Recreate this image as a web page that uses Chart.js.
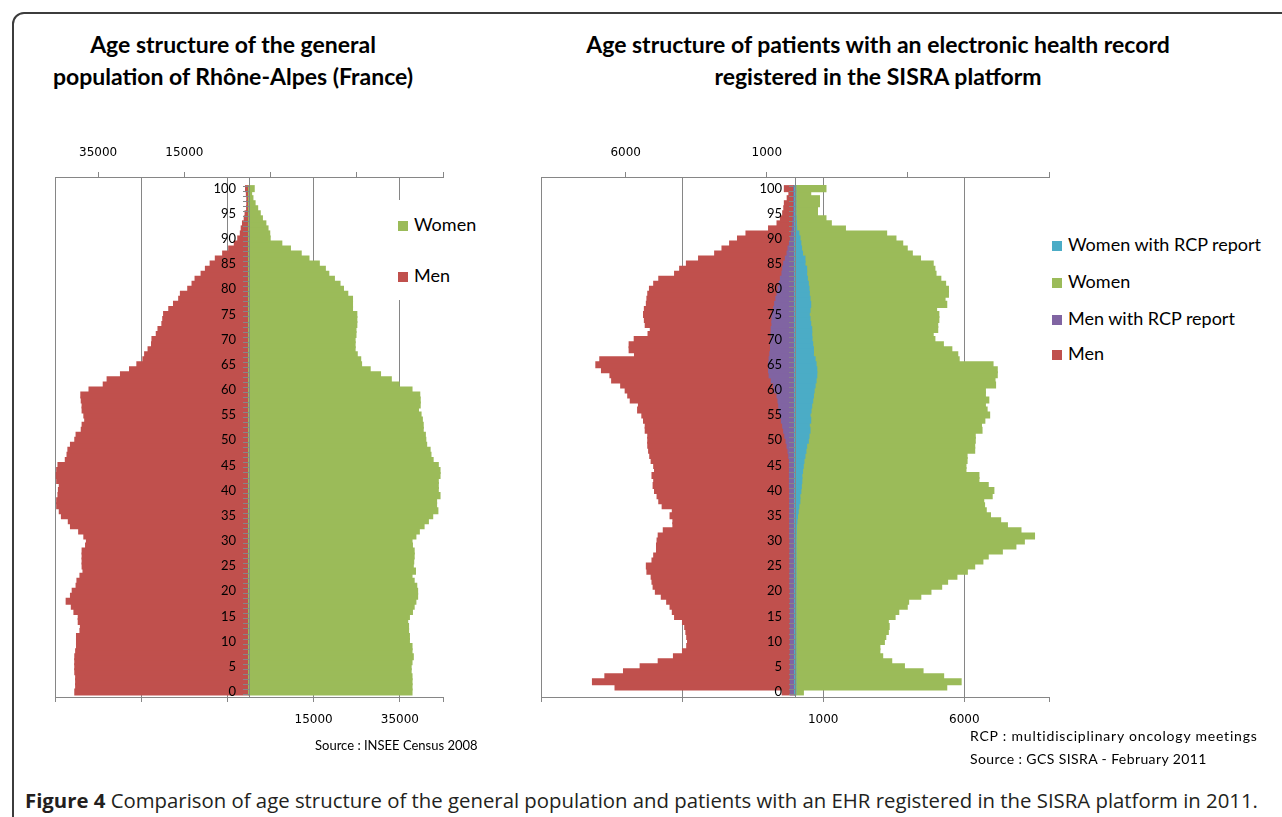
<!DOCTYPE html>
<html>
<head>
<meta charset="utf-8">
<script src="https://cdn.jsdelivr.net/npm/chart.js@4.4.1/dist/chart.umd.min.js"></script>
<style>
html,body{margin:0;padding:0;background:#fff;width:1282px;height:817px;overflow:hidden;}
body{position:relative;font-family:Lato,sans-serif;color:#000;}
.frame{position:absolute;left:12px;top:12px;width:1320px;height:860px;border:2px solid #3c3c3c;border-radius:12px;box-sizing:border-box;}
.title{position:absolute;font-weight:bold;font-size:23px;text-align:center;line-height:32px;white-space:nowrap;}
.chartbox{position:absolute;}
.legend{position:absolute;background:#fff;font-size:18px;}
.legend .item{position:absolute;white-space:nowrap;line-height:20px;}
.legend .sw{display:inline-block;width:10px;height:10px;margin-right:6px;vertical-align:0px;}
.note{position:absolute;font-size:13px;white-space:nowrap;}
.caption{position:absolute;left:25px;top:786px;font-family:"Open Sans",sans-serif;font-size:20.35px;color:#231f20;white-space:nowrap;}
</style>
</head>
<body>
<div class="frame"></div>

<div class="title" style="left:33px;top:28px;width:400px;">Age structure of the general<br>population of Rhône-Alpes (France)</div>
<div class="title" style="left:528px;top:28px;width:700px;">Age structure of patients with an electronic health record<br>registered in the SISRA platform</div>

<div class="chartbox" style="left:0px;top:130px;width:460px;height:610px;"><canvas id="c1" width="460" height="610"></canvas></div>
<div class="chartbox" style="left:480px;top:130px;width:590px;height:610px;"><canvas id="c2" width="590" height="610"></canvas></div>

<div class="legend" style="left:394px;top:200px;width:90px;height:100px;">
  <div class="item" style="left:4px;top:14px;"><span class="sw" style="background:#9BBB59"></span>Women</div>
  <div class="item" style="left:4px;top:65px;"><span class="sw" style="background:#C0504D"></span>Men</div>
</div>
<div class="legend" style="left:1048px;top:225px;width:230px;height:150px;">
  <div class="item" style="left:4px;top:9px;"><span class="sw" style="background:#4BACC6"></span>Women with RCP report</div>
  <div class="item" style="left:4px;top:46px;"><span class="sw" style="background:#9BBB59"></span>Women</div>
  <div class="item" style="left:4px;top:83px;"><span class="sw" style="background:#8064A2"></span>Men with RCP report</div>
  <div class="item" style="left:4px;top:118px;"><span class="sw" style="background:#C0504D"></span>Men</div>
</div>

<div class="note" style="left:315px;top:737px;">Source : INSEE Census 2008</div>
<div class="note" style="left:970px;top:727px;font-size:14px;letter-spacing:0.8px;">RCP : multidisciplinary oncology meetings</div>
<div class="note" style="left:970px;top:750px;font-size:14px;letter-spacing:0.4px;">Source : GCS SISRA - February 2011</div>

<div class="caption"><b>Figure 4</b> Comparison of age structure of the general population and patients with an EHR registered in the SISRA platform in 2011.</div>

<script>
// ---- categories (ages) ----
const ages = [0,1,2,3,4,5,6,7,8,9,10,11,12,13,14,15,16,17,18,19,20,21,22,23,24,25,26,27,28,29,30,31,32,33,34,35,36,37,38,39,40,41,42,43,44,45,46,47,48,49,50,51,52,53,54,55,56,57,58,59,60,61,62,63,64,65,66,67,68,69,70,71,72,73,74,75,76,77,78,79,80,81,82,83,84,85,86,87,88,89,90,91,92,93,94,95,96,97,98,99,100];

// ---- Rhône-Alpes general population (INSEE 2008), index = age ----
const womenRA = [37700,37700,37700,37700,37500,37500,37700,38000,37700,37700,
  37100,37100,36900,36900,36700,37100,37800,38200,38600,39000,
  39000,38800,38200,37700,38500,38000,38100,38200,38200,37800,
  37700,38600,39400,40500,41500,42500,43700,43400,43400,44200,
  43800,43800,43800,44200,44200,43800,42600,42100,41900,41100,
  40900,40800,40300,40300,40100,39800,39200,39600,39600,39500,
  37700,34700,32900,30400,28000,26000,25800,25000,24500,24500,
  24500,24700,24700,24900,24900,24900,23900,23900,23900,22800,
  21800,21000,19700,18400,17600,16200,13800,12000,9500,7500,
  4800,4700,4300,3800,3000,2500,1900,1300,800,500,1100];
const menRA = [40300,40100,40100,40100,40300,40300,40300,40300,40100,39900,
  39900,39900,39100,39000,39500,39500,40500,41100,42300,41300,
  40900,40000,39800,39100,38400,38600,38600,38600,38600,37800,
  37600,38200,39400,41300,41800,43400,43900,44500,44500,44200,
  44100,43900,44500,44600,44500,44200,42500,42100,41900,41300,
  40300,40000,38800,38600,38000,38200,38600,38600,38800,38900,
  37000,33700,32800,29700,27600,25900,24500,24100,23300,22500,
  22400,21400,21000,20100,19900,19700,18500,17400,16200,15800,
  14100,13100,12400,11000,10000,8900,7700,6000,4600,3300,
  2500,1900,1700,1400,1000,800,450,400,400,500,700];

// ---- SISRA patients (Feb 2011), index = age ----
const womenSISRA = [280,5360,5870,5250,4520,3860,3410,3090,2990,2990,
  3150,3200,3290,3320,3290,3530,3660,3960,4010,4440,
  4800,5180,5390,5720,6090,6350,6640,6830,7330,7810,
  8110,8470,7990,7510,7270,6910,6760,6700,6670,6970,
  7030,6830,6500,6500,6040,6040,6080,6080,6350,6350,
  6370,6370,6610,6590,6710,6880,6790,6730,6850,6730,
  6730,7090,7070,7150,7150,7000,5800,5750,5540,5240,
  4940,4880,5040,5040,5080,5080,5000,5360,5300,5420,
  5420,5320,5150,4980,4940,4880,4430,4140,3960,3800,
  3560,3230,1770,1270,1080,780,780,850,850,540,1080];
const womenRCP = [10,10,10,10,10,10,10,10,10,10,
  10,10,10,10,10,10,10,10,10,10,
  10,15,15,15,15,15,15,15,15,15,
  15,20,25,30,50,70,95,120,155,155,
  190,205,225,225,250,275,300,335,370,395,
  455,480,515,490,540,515,550,575,610,635,
  660,695,730,755,755,730,695,635,635,610,
  585,575,575,540,515,490,515,540,515,490,
  480,455,420,395,395,335,335,250,215,190,
  160,120,40,30,20,10,10,10,10,10,10];
const menSISRA = [440,6360,7160,6720,6060,5470,4830,4290,3970,3820,
  3790,3820,3850,3890,3970,4250,4330,4410,4530,4720,
  4930,5010,5050,5080,5230,5250,5050,4990,4890,4890,
  4870,4830,4650,4310,4310,4410,4330,4690,4810,4870,
  4960,5010,4990,5050,4960,4990,5080,5130,5170,5200,
  5200,5200,5290,5290,5350,5410,5560,5530,5820,5910,
  6000,6160,6480,6540,6840,7040,6900,5670,5860,5860,
  5680,5190,5110,5290,5320,5350,5320,5250,5230,5200,
  5140,4990,4810,4250,4070,3830,3400,2830,2570,2300,
  2020,1720,920,620,500,420,380,360,260,200,360];
const menRCP = [150,150,150,150,150,150,150,150,150,150,
  150,150,150,150,150,150,150,150,150,150,
  150,160,160,160,160,160,160,160,160,160,
  160,170,170,170,170,170,170,170,170,170,
  170,180,180,180,180,180,180,205,230,265,
  300,345,385,420,465,500,540,560,585,620,
  705,740,825,900,920,920,900,875,850,850,
  825,825,825,800,800,780,740,705,660,620,
  585,540,500,445,420,385,325,265,230,180,
  145,110,80,60,50,40,30,30,30,30,30];

// ---- axis tick values ----
const ticksBottomL = [-45000,-25000,-5000,15000,35000,45000];
const ticksTopL    = [-35000,-15000,5000,25000,45000];
const ticksBottomR = [-9000,-4000,1000,6000,9000];
const ticksTopR    = [-6000,-1000,4000,9000];

const RED='#C0504D', GREEN='#9BBB59', BLUE='#4BACC6', PURPLE='#8064A2', GRID='#868686';
const axFont = {family:'DejaVu Sans', size:12};
const ageFont = {family:'Lato', size:13};
const GAP = '\u2002\u2002';

function makeOptions(limit, bottomTicks, topTicks, padL, padR){
  return {
    indexAxis:'y', responsive:false, animation:false, maintainAspectRatio:false,
    datasets:{bar:{grouped:false, barPercentage:1, categoryPercentage:1, borderWidth:0, inflateAmount:1}},
    layout:{padding:{left:padL, right:padR, top:7, bottom:3}},
    plugins:{legend:{display:false}, tooltip:{enabled:false}},
    scales:{
      x:{type:'linear', position:'bottom', min:-limit, max:limit,
        afterBuildTicks:s=>{ s.ticks = bottomTicks.map(v=>({value:v})); },
        afterFit:s=>{ s.height = 40; },
        ticks:{autoSkip:false, maxRotation:0, padding:11, font:axFont, color:'#000',
          callback:v=> (v>0 && v<limit) ? String(v) : ''},
        grid:{color:ctx=> (ctx.tick && ctx.tick.value===limit) ? 'rgba(0,0,0,0)' : GRID,
          tickColor:GRID, tickLength:5, lineWidth:1},
        border:{color:GRID, width:1}
      },
      x2:{type:'linear', position:'top', min:-limit, max:limit,
        afterBuildTicks:s=>{ s.ticks = topTicks.map(v=>({value:v})); },
        afterFit:s=>{ s.height = 40; },
        ticks:{autoSkip:false, maxRotation:0, padding:12, font:axFont, color:'#000',
          callback:v=> v<0 ? String(-v) : ''},
        grid:{drawOnChartArea:false, color:GRID, tickLength:5},
        border:{color:GRID, width:1}
      },
      y:{type:'linear', position:{x:0}, min:-0.5, max:101.8,
        afterBuildTicks:s=>{ s.ticks = ages.map(a=>({value:a})); },
        ticks:{z:2, autoSkip:false, padding:7, font:ageFont, color:'#000',
          callback:v=> (v%5===0) ? String(v) + GAP : ''},
        grid:{z:1, drawOnChartArea:false, color:GRID, tickLength:6},
        border:{z:1, color:GRID, width:1}
      }
    }
  };
}

new Chart(document.getElementById('c1'), {
  type:'bar',
  data:{labels:ages, datasets:[
    {label:'Women', data:womenRA, backgroundColor:GREEN},
    {label:'Men', data:menRA.map(v=>-v), backgroundColor:RED}
  ]},
  options:makeOptions(45000, ticksBottomL, ticksTopL, 55, 17)
});

new Chart(document.getElementById('c2'), {
  type:'bar',
  data:{labels:ages, datasets:[
    {label:'Women with RCP report', data:womenRCP, backgroundColor:BLUE},
    {label:'Women', data:womenSISRA, backgroundColor:GREEN},
    {label:'Men with RCP report', data:menRCP.map(v=>-v), backgroundColor:PURPLE},
    {label:'Men', data:menSISRA.map(v=>-v), backgroundColor:RED}
  ]},
  options:makeOptions(9000, ticksBottomR, ticksTopR, 61, 21)
});
</script>
</body>
</html>
